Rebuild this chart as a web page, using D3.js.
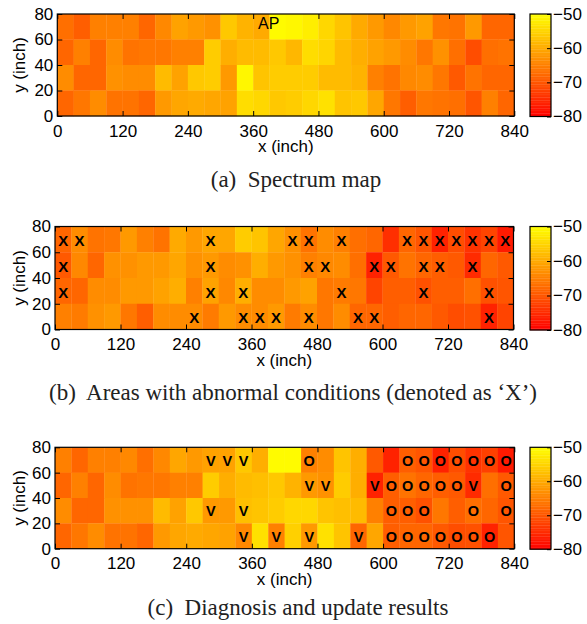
<!DOCTYPE html>
<html>
<head>
<meta charset="utf-8">
<script src="https://cdn.jsdelivr.net/npm/d3@7"></script>
<style>
    body { margin: 0; background: #fff; }
    text { font-family: "Liberation Sans", Arial, sans-serif; }
    .caption { font-family: "Liberation Serif", "Times New Roman", serif; white-space: pre; }
</style>
</head>
<body>
<div id="chart"></div>
<script>
const xTicks = [0, 120, 240, 360, 480, 600, 720, 840];
const yTicks = [0, 20, 40, 60, 80];
const cbTicks = [-50, -60, -70, -80];
const cellW = 30, cellH = 20;

// rss in dBm, rows from top (y 60-80) to bottom (y 0-20), 28 columns of 30 inch
const spectrumMap = [
    [-67, -69, -65, -65, -65, -68, -64, -61, -62, -63, -56.5, -59, -60, -50.5, -51, -52, -54.7, -57, -60, -62, -64, -62, -61, -66, -66.5, -62, -68, -68],
    [-68, -65, -68, -63.5, -66.5, -66, -66, -65, -65, -56, -59.5, -58, -58, -56.5, -58.5, -54, -55, -58, -59.5, -61, -62, -63.5, -66, -63, -67, -71, -67, -66.5],
    [-63.5, -68, -68, -63, -63.5, -63.5, -58, -61, -56.5, -56, -62, -51, -57, -56, -56, -56, -58, -58, -59, -65, -66.5, -64, -63.5, -66, -69.5, -66.5, -68, -68],
    [-68, -66, -63.5, -66.5, -66.5, -68, -62, -60.5, -60, -60.5, -61, -54, -54.7, -56.5, -56, -54.7, -53.5, -57, -56.5, -60.5, -66, -69, -66, -66.5, -67, -70, -65, -68]
];
const abnormalMap = [
    [-68, -63.5, -66.5, -66, -62, -65, -66.5, -60, -62, -60.5, -60.5, -56, -57, -60.5, -63, -66.5, -63.5, -65, -67, -68, -74.5, -68, -70, -76, -71, -74, -72, -77],
    [-69.5, -64, -68, -63, -63, -62, -62, -60.5, -63, -62, -63.5, -63, -59.5, -62, -63, -65, -64, -63.5, -67, -76, -69.5, -66.5, -68, -69, -69.5, -75, -68, -69.5],
    [-68, -68, -63.5, -63.5, -62, -62, -61, -59.5, -65, -61, -64, -59.5, -63.5, -63.5, -62, -61, -66, -65.5, -66, -72, -69, -69, -70.5, -69, -69, -67, -70.5, -70],
    [-65, -65.5, -63, -62, -66, -69, -63.5, -63.5, -63.5, -65.5, -62, -63.5, -63.5, -62, -65.5, -63.5, -66, -63.5, -68, -68, -69, -68, -68, -69.5, -71, -70.5, -76, -72]
];
const diagnosisMap = [
    [-65, -68, -65, -65, -64, -67, -64, -60.5, -62, -61, -61, -56.5, -59.5, -50.5, -50.5, -65, -63.5, -57, -59.5, -69.5, -76, -69, -70, -76, -71, -74, -72.5, -77],
    [-68, -65, -68, -63.5, -66.5, -66, -66, -65, -65, -56, -59.5, -58, -57.5, -56.5, -59, -62, -63, -56, -59.5, -76, -69, -66.5, -68, -69, -69.5, -75, -67, -69.5],
    [-63.5, -68, -68, -63, -63, -63, -58, -61, -56.5, -62, -62, -57.5, -57, -56, -54.7, -54.7, -57, -57.5, -58, -65, -69, -69, -70.5, -66, -69, -67, -68, -70],
    [-68, -66, -63.5, -66.5, -66.5, -68, -62, -60.5, -60, -60.5, -61, -64, -53.5, -65, -55.5, -62, -53.5, -57, -68, -60.5, -69, -68, -68, -69.5, -71, -70.5, -76, -70]
];

// column indices of marked cells, rows top to bottom
const abnormalX = [
    [0, 1, 9, 14, 15, 17, 21, 22, 23, 24, 25, 26, 27],
    [0, 9, 15, 16, 19, 20, 22, 23, 25],
    [0, 9, 11, 17, 22, 26],
    [8, 11, 12, 13, 15, 18, 19, 26]
];
const diagnosisV = [
    [9, 10, 11],
    [15, 16, 19, 25],
    [9, 11],
    [11, 13, 15, 18]
];
const diagnosisO = [
    [15, 21, 22, 23, 24, 25, 26, 27],
    [20, 21, 22, 23, 24, 27],
    [20, 21, 22, 25, 27],
    [20, 21, 22, 23, 24, 25, 26]
];

const width = 587, height = 624;
const svg = d3.select("#chart").append("svg")
    .attr("width", width)
    .attr("height", height);

// autumn colormap: red at -80, yellow at -50
const color = d3.scaleLinear().domain([-80, -50]).range(["#ff0000", "#ffff00"]);

const panels = [
    {values: spectrumMap, left: 57.3, right: 514.3, top: 14, bottom: 116, caption: "(a)  Spectrum map", capX: 296, capY: 187,
        marks: [], label: {text: "AP", x: 369, y: 68}},
    {values: abnormalMap, left: 55, right: 513.5, top: 226.5, bottom: 329.5, caption: "(b)  Areas with abnormal conditions (denoted as \u2018X\u2019)", capX: 293, capY: 400,
        marks: [{rows: abnormalX, ch: "X", size: 15, dy: "0.45em"}]},
    {values: diagnosisMap, left: 55, right: 514.3, top: 447.3, bottom: 548.7, caption: "(c)  Diagnosis and update results", capX: 298, capY: 615,
        marks: [{rows: diagnosisV, ch: "V", size: 14.5, dy: "0.4em"}, {rows: diagnosisO, ch: "O", size: 14.5, dy: "0.4em"}]}
];

panels.forEach(p => {
    const g = svg.append("g");
    const x = d3.scaleLinear().domain([0, 840]).range([p.left, p.right]);
    const y = d3.scaleLinear().domain([0, 80]).range([p.bottom, p.top]);

    // cells
    const cells = [];
    p.values.forEach((row, r) => row.forEach((v, c) => cells.push({r: r, c: c, v: v})));
    g.append("g").selectAll("rect")
        .data(cells)
        .enter()
        .append("rect")
        .attr("x", d => x(d.c * cellW))
        .attr("y", d => y((4 - d.r) * cellH))
        .attr("width", d => x((d.c + 1) * cellW) - x(d.c * cellW) + 0.3)
        .attr("height", d => y((3 - d.r) * cellH) - y((4 - d.r) * cellH) + 0.3)
        .attr("fill", d => color(d.v));

    // marks
    p.marks.forEach(m => {
        const pts = [];
        m.rows.forEach((cols, r) => cols.forEach(c => pts.push({r: r, c: c})));
        g.append("g").selectAll("text")
            .data(pts)
            .enter()
            .append("text")
            .attr("x", d => x(d.c * cellW + cellW / 2))
            .attr("y", d => y((3 - d.r) * cellH + cellH / 2))
            .attr("dy", m.dy)
            .attr("text-anchor", "middle")
            .style("font-size", m.size + "px")
            .style("font-weight", "bold")
            .text(m.ch);
    });

    if (p.label) {
        g.append("text")
            .attr("x", x(p.label.x))
            .attr("y", y(p.label.y))
            .style("font-size", "16px")
            .text(p.label.text);
    }

    // axes, ticks pointing inwards
    g.append("g")
        .attr("transform", "translate(0," + p.bottom + ")")
        .call(d3.axisBottom(x).tickValues(xTicks).tickSize(-5).tickSizeOuter(0).tickPadding(8.5));
    g.append("g")
        .attr("transform", "translate(" + p.left + ",0)")
        .call(d3.axisLeft(y).tickValues(yTicks).tickSize(-5).tickSizeOuter(0).tickPadding(4));
    g.append("g")
        .attr("transform", "translate(0," + p.top + ")")
        .call(d3.axisTop(x).tickValues(xTicks).tickSize(-5).tickSizeOuter(0).tickFormat(""));
    g.append("g")
        .attr("transform", "translate(" + p.right + ",0)")
        .call(d3.axisRight(y).tickValues(yTicks).tickSize(-5).tickSizeOuter(0).tickFormat(""));
    g.selectAll(".tick text").style("font-size", "17px").attr("fill", "#000");
    g.selectAll(".domain").remove();

    g.append("rect")
        .attr("x", p.left).attr("y", p.top)
        .attr("width", p.right - p.left).attr("height", p.bottom - p.top)
        .attr("fill", "none").attr("stroke", "#000").attr("stroke-width", 1.2);

    // axis labels
    g.append("text")
        .attr("x", (p.left + p.right) / 2)
        .attr("y", p.bottom + 36)
        .attr("text-anchor", "middle")
        .style("font-size", "17px")
        .text("x (inch)");
    g.append("text")
        .attr("transform", "translate(25," + (p.top + p.bottom) / 2 + ") rotate(-90)")
        .attr("text-anchor", "middle")
        .style("font-size", "17px")
        .text("y (inch)");

    // colorbar
    const cbL = 530, cbR = 551;
    const cbTop = p.top, cbBottom = p.bottom + 0.5;
    const cy = d3.scaleLinear().domain([-80, -50]).range([cbBottom, cbTop]);
    const steps = d3.range(64).map(i => -80 + i * 30 / 64);
    g.append("g").selectAll("rect")
        .data(steps)
        .enter()
        .append("rect")
        .attr("x", cbL)
        .attr("y", d => cy(d + 30 / 64))
        .attr("width", cbR - cbL)
        .attr("height", d => cy(d) - cy(d + 30 / 64) + 0.3)
        .attr("fill", d => color(d + 15 / 64));
    const cbAxis = g.append("g")
        .attr("transform", "translate(" + cbR + ",0)")
        .call(d3.axisRight(cy).tickValues(cbTicks).tickSize(-4).tickSizeOuter(0).tickPadding(2));
    cbAxis.selectAll("text").style("font-size", "17px").attr("fill", "#000");
    cbAxis.select(".domain").remove();
    g.append("rect")
        .attr("x", cbL).attr("y", cbTop)
        .attr("width", cbR - cbL).attr("height", cbBottom - cbTop)
        .attr("fill", "none").attr("stroke", "#000").attr("stroke-width", 1.2);

    // caption
    g.append("text")
        .attr("class", "caption")
        .attr("x", p.capX)
        .attr("y", p.capY)
        .attr("text-anchor", "middle")
        .attr("fill", "#222")
        .style("font-size", "23px")
        .text(p.caption);
});
</script>
</body>
</html>
